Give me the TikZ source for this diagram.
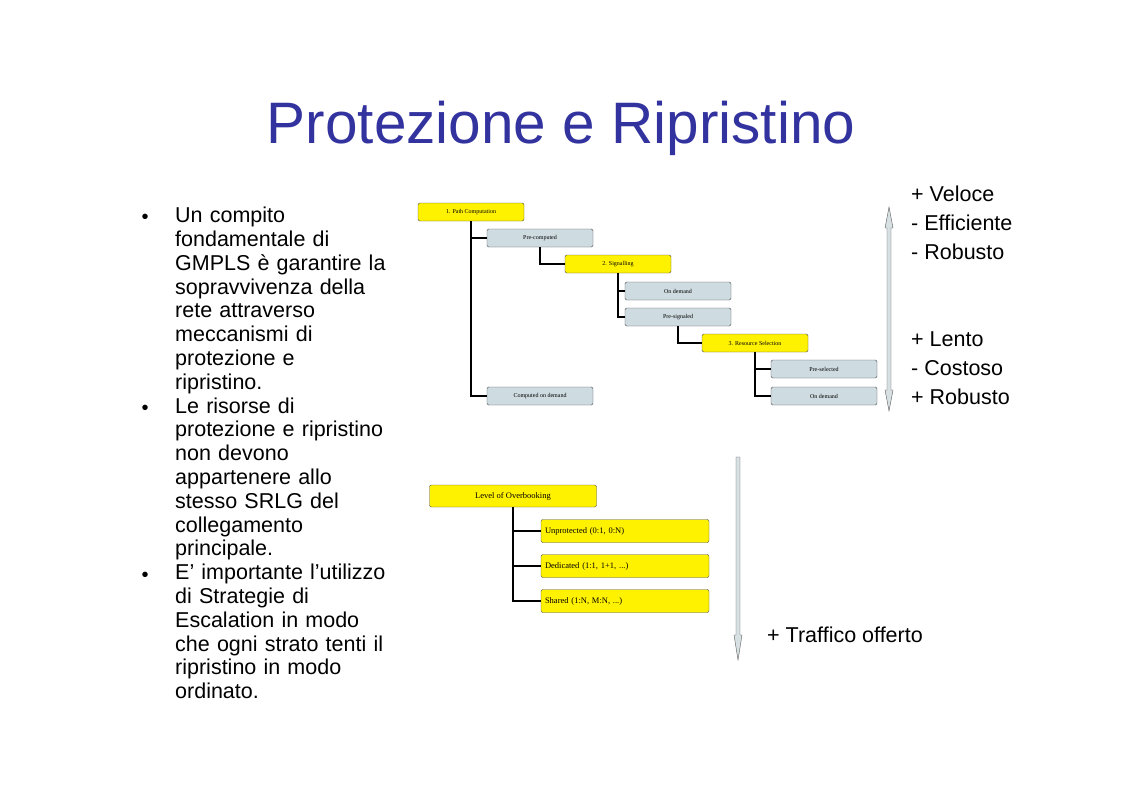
\documentclass[tikz,border=0pt]{standalone}
\usepackage{fontspec}
\setmainfont{Liberation Sans}
\newfontfamily\serf{Liberation Serif}
\definecolor{ttl}{HTML}{3333A0}
\begin{document}
\begin{tikzpicture}[x=1pt,y=-1pt,
 yb/.style={draw=black!70,fill=yellow,rounded corners=1.5pt,font=\serf\fontsize{6}{7}\selectfont,inner sep=0},
 bb/.style={draw=black!70,fill=cyan!25!gray!35!white,rounded corners=1.5pt,font=\serf\fontsize{6}{7}\selectfont,inner sep=0},
 yb2/.style={draw=black!70,fill=yellow,rounded corners=2pt,font=\serf\fontsize{8.5}{10}\selectfont,inner sep=0},
 cn/.style={line width=1.4pt},
 txt/.style={font=\fontsize{21.5}{23.8}\selectfont,anchor=north west,align=left,inner sep=0},
 rtxt/.style={font=\fontsize{21.5}{29}\selectfont,anchor=north west,align=left,inner sep=0}]
\useasboundingbox (0,0) rectangle (1123,793);
\node[font=\fontsize{58.5}{64}\selectfont,text=ttl] (title) at (561,128) {Protezione e Ripristino};
\foreach \y in {219,410,577} \node at (145,\y) {\fontsize{20}{23}\selectfont•};
\node[txt,text width=260] (b1) at (175,207) {Un compito\\fondamentale di\\GMPLS è garantire la\\sopravvivenza della\\rete attraverso\\meccanismi di\\protezione e\\ripristino.\\Le risorse di\\protezione e ripristino\\non devono\\appartenere allo\\stesso SRLG del\\collegamento\\principale.\\E’ importante l’utilizzo\\di Strategie di\\Escalation in modo\\che ogni strato tenti il\\ripristino in modo\\ordinato.};
% tree 1
\node[yb,minimum width=106,minimum height=18] (p1) at (471,212) {1. Path Computation};
\node[bb,minimum width=106,minimum height=18] (pc) at (540,238) {Pre-computed};
\node[yb,minimum width=106,minimum height=18] (s2) at (618,264) {2. Signalling};
\node[bb,minimum width=106,minimum height=18] (od1) at (678,291) {On demand};
\node[bb,minimum width=106,minimum height=18] (ps) at (678,317) {Pre-signaled};
\node[yb,minimum width=106,minimum height=18] (r3) at (755,343) {3. Resource Selection};
\node[bb,minimum width=106,minimum height=18] (psel) at (824,369) {Pre-selected};
\node[bb,minimum width=106,minimum height=18] (od2) at (824,396) {On demand};
\node[bb,minimum width=106,minimum height=18] (cod) at (540,396) {Computed on demand};
\draw[cn] (p1.south) |- (pc.west);
\draw[cn] (p1.south) |- (cod.west);
\draw[cn] (pc.south) |- (s2.west);
\draw[cn] (s2.south) |- (od1.west);
\draw[cn] (s2.south) |- (ps.west);
\draw[cn] (ps.south) |- (r3.west);
\draw[cn] (r3.south) |- (psel.west);
\draw[cn] (r3.south) |- (od2.west);
% tree 2
\node[yb2,minimum width=167,minimum height=22] (lo) at (513,496) {Level of Overbooking};
\node[yb2,minimum width=168,minimum height=23,align=left,text width=160] (u) at (625,531) {Unprotected (0:1, 0:N)};
\node[yb2,minimum width=168,minimum height=23,text width=160] (d) at (625,566) {Dedicated (1:1, 1+1, ...)};
\node[yb2,minimum width=168,minimum height=23,text width=160] (sh) at (625,601) {Shared (1:N, M:N, ...)};
\foreach \n in {u,d,sh} \draw[cn] (lo.south) |- (\n.west);
% arrows
\fill[cyan!20!gray!30,draw=gray!70!black] (889,207) -- (893,228) -- (891,228) -- (891,390) -- (893,390) -- (889,411) -- (885,390) -- (887,390) -- (887,228) -- (885,228) -- cycle;
\fill[cyan!20!gray!30,draw=gray!70!black] (736,457) -- (740,457) -- (740,635) -- (742,635) -- (738,660) -- (734,635) -- (736,635) -- cycle;
\node[rtxt] (t1) at (911,186) {+ Veloce\\- Efficiente\\- Robusto};
\node[rtxt] (t2) at (911,331) {+ Lento\\- Costoso\\+ Robusto};
\node[rtxt] (t3) at (767,627) {+ Traffico offerto};
\end{tikzpicture}
\end{document}
